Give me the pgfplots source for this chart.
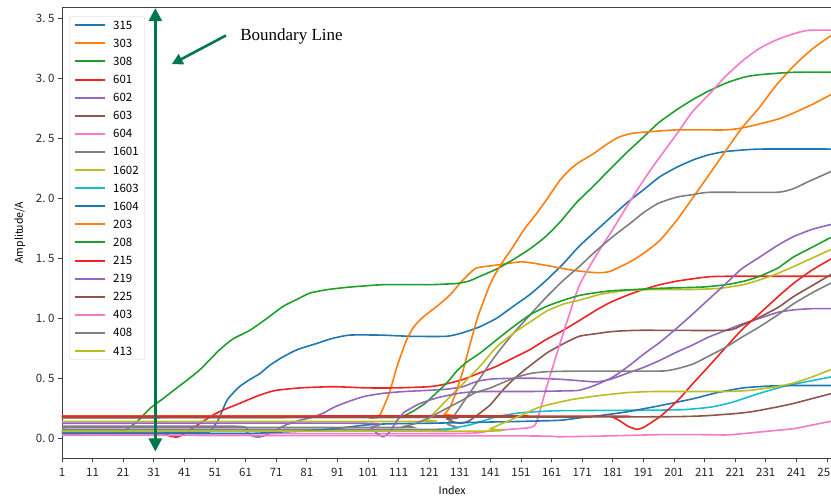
\documentclass[border=0pt]{standalone}
\usepackage{pgfplots}
\pgfplotsset{compat=1.18}
\usetikzlibrary{arrows.meta}
\usepackage{fontspec}
\setmainfont{Noto Sans CJK SC}
\newfontfamily\timesfont{Liberation Serif}
\definecolor{sBlue}{HTML}{1F77B4}
\definecolor{sOrange}{HTML}{FF7F0E}
\definecolor{sGreen}{HTML}{1FA02C}
\definecolor{sRed}{HTML}{F02323}
\definecolor{sPurple}{HTML}{9467BD}
\definecolor{sBrown}{HTML}{8C564B}
\definecolor{sPink}{HTML}{F57AC8}
\definecolor{sGray}{HTML}{7F7F7F}
\definecolor{sOlive}{HTML}{BCBD22}
\definecolor{sCyan}{HTML}{17BECF}
\definecolor{arrowgreen}{RGB}{0,120,75}
\pgfplotsset{ser/.style={line width=1.6pt, smooth, tension=0.35, mark=none}}
\begin{document}
\begin{tikzpicture}
\begin{axis}[
  scale only axis, width=780.3pt, height=450.8pt,
  xmin=1, xmax=256, ymin=-0.1667, ymax=3.59,
  xtick={1,11,21,31,41,51,61,71,81,91,101,111,121,131,141,151,161,171,181,191,201,211,221,231,241,251},
  xticklabels={1,11,21,31,41,51,61,71,81,91,101,111,121,131,141,151,161,171,181,191,201,211,221,231,241,251},
  ytick={0,0.5,1,1.5,2,2.5,3,3.5},
  yticklabels={0.\hspace{0.22em}0,0.\hspace{0.22em}5,1.\hspace{0.22em}0,1.\hspace{0.22em}5,2.\hspace{0.22em}0,2.\hspace{0.22em}5,3.\hspace{0.22em}0,3.\hspace{0.22em}5},
  xtick pos=bottom, ytick pos=left,
  tick align=outside, major tick length=4pt,
  tick style={black!75, line width=0.8pt},
  axis line style={black!75, line width=0.9pt},
  ticklabel style={font=\fontsize{11.5}{13}\selectfont, text=black!85},
  xticklabel style={yshift=-2pt},
  every axis x label/.style={at={(rel axis cs:0.5,0)}, yshift=-32pt, anchor=center},
  every axis y label/.style={at={(rel axis cs:0,0.5)}, xshift=-42pt, rotate=90, anchor=center},
  label style={font=\fontsize{10.5}{12}\selectfont},
  xlabel={Index}, ylabel={Amplitude/A},
  legend cell align=left,
  legend image code/.code={\draw[#1, line width=2pt] plot coordinates {(0pt,0pt) (15pt,0pt) (30pt,0pt)};},
  legend style={at={(0.009,0.98)}, anchor=north west, draw=black!18, rounded corners=2.5pt,
    fill=white, fill opacity=0.85, text opacity=1, row sep=7.1pt, inner xsep=5pt, inner ysep=3pt,
    font=\fontsize{11.5}{13}\selectfont,
    /tikz/every odd column/.append style={column sep=6pt},
    nodes={inner sep=1pt, text height=8.5pt, text depth=0.5pt}},
]
% 315
\addplot[ser, color=sBlue] coordinates {(1,0.05)(30,0.05)(46,0.05)(49,0.05)(52,0.15)(55,0.32)(59,0.43)(62.4,0.49)(65.7,0.54)(69,0.61)(73.3,0.68)(78,0.74)(84.2,0.79)(89,0.83)(95,0.86)(105,0.86)(115,0.85)(126.7,0.85)(132,0.88)(137.6,0.93)(143,1.0)(148.5,1.10)(154,1.20)(159.4,1.32)(165,1.46)(170,1.60)(176.8,1.76)(185.5,1.96)(191,2.07)(196.4,2.18)(202,2.26)(207.3,2.32)(212,2.36)(218,2.39)(229,2.41)(256,2.41)};
\addlegendentry{315}
% 303
\addplot[ser, color=sOrange] coordinates {(1,0.185)(100,0.185)(103,0.17)(105,0.2)(108,0.38)(110.5,0.6)(113.6,0.82)(116,0.93)(119,1.01)(124.5,1.12)(128,1.2)(131,1.29)(134,1.37)(136.5,1.42)(142,1.44)(150.7,1.47)(155,1.46)(159.4,1.44)(168,1.40)(175.7,1.38)(180,1.39)(186.6,1.47)(191,1.54)(196.4,1.65)(202,1.82)(207.3,2.01)(212,2.18)(218,2.40)(223,2.58)(229,2.76)(234,2.93)(240,3.10)(246,3.24)(252,3.35)(256,3.40)};
\addlegendentry{303}
% 308
\addplot[ser, color=sGreen] coordinates {(1,0.06)(20,0.06)(23,0.09)(26,0.15)(29.8,0.25)(34,0.33)(37,0.39)(40.6,0.46)(46,0.57)(52.6,0.74)(57,0.83)(62.4,0.90)(68,1.0)(73.3,1.10)(78,1.16)(82,1.21)(88,1.24)(95,1.26)(106,1.28)(121,1.28)(126,1.285)(130,1.29)(134,1.31)(137.6,1.35)(143,1.41)(148.5,1.49)(154,1.58)(159,1.68)(163.7,1.80)(169,1.96)(174.6,2.10)(180,2.24)(185.5,2.38)(191,2.51)(196,2.63)(202,2.74)(207,2.82)(212,2.89)(218,2.96)(224,3.01)(229,3.03)(240,3.05)(256,3.05)};
\addlegendentry{308}
% 601
\addplot[ser, color=sRed] coordinates {(1,0.04)(33,0.04)(36,0.02)(38.5,0.01)(40.5,0.03)(42.8,0.07)(47,0.14)(51.5,0.21)(55,0.25)(58,0.28)(64.6,0.35)(68,0.38)(71,0.40)(78.8,0.42)(89.7,0.43)(100.6,0.42)(110,0.42)(121,0.43)(126,0.45)(132,0.49)(137,0.54)(143,0.60)(148.5,0.67)(154,0.74)(159,0.82)(164.8,0.90)(170,0.98)(175.7,1.07)(180,1.13)(185.5,1.19)(191,1.24)(196.4,1.28)(202,1.31)(207.3,1.33)(212,1.345)(218,1.35)(256,1.35)};
\addlegendentry{601}
% 602
\addplot[ser, color=sPurple] coordinates {(1,0.10)(58,0.10)(61,0.06)(63,0.02)(65,0.01)(67,0.02)(71,0.07)(74,0.11)(78.8,0.15)(82,0.17)(86.4,0.21)(90,0.26)(95,0.31)(100,0.35)(106,0.375)(113,0.39)(121,0.40)(127,0.41)(132,0.43)(135,0.46)(137.6,0.48)(142,0.495)(148.5,0.50)(156,0.50)(164.8,0.49)(170,0.48)(175.7,0.47)(180,0.49)(185.5,0.54)(191,0.59)(196.4,0.65)(202,0.72)(207.3,0.78)(212,0.84)(218,0.90)(223,0.95)(229,1.00)(235,1.05)(240,1.07)(246,1.08)(256,1.08)};
\addlegendentry{602}
% 603
\addplot[ser, color=sBrown] coordinates {(1,0.175)(124,0.175)(127,0.16)(129,0.135)(131.5,0.125)(134,0.145)(137.6,0.21)(141,0.28)(145,0.40)(148.5,0.49)(152.7,0.58)(159.4,0.71)(165,0.79)(170,0.85)(175,0.87)(181,0.89)(190,0.90)(218,0.90)(223,0.94)(229,1.01)(235,1.09)(240,1.18)(246,1.27)(252,1.36)(256,1.42)};
\addlegendentry{603}
% 604
\addplot[ser, color=sPink] coordinates {(1,0.04)(128,0.04)(140,0.06)(150,0.08)(154,0.09)(156,0.13)(159.4,0.43)(164.8,0.875)(170,1.27)(175.7,1.53)(181,1.74)(185.5,1.93)(190,2.11)(194,2.26)(202,2.54)(207,2.72)(212.8,2.875)(218,3.02)(223.6,3.15)(229,3.25)(234.5,3.32)(240,3.37)(245,3.40)(256,3.40)};
\addlegendentry{604}
% 1601
\addplot[ser, color=sGray] coordinates {(1,0.075)(124,0.075)(127,0.12)(130,0.22)(134.3,0.38)(137.6,0.50)(141,0.63)(144.5,0.75)(148.5,0.875)(154,1.03)(159.4,1.18)(165,1.32)(170,1.43)(175,1.55)(181,1.68)(186.6,1.79)(191,1.88)(196,1.96)(202,2.01)(207,2.03)(212.8,2.05)(234.5,2.05)(240,2.08)(245,2.14)(252,2.22)(256,2.28)};
\addlegendentry{1601}
% 1602
\addplot[ser, color=sOlive] coordinates {(1,0.14)(118,0.14)(120,0.15)(123,0.22)(126,0.30)(129.5,0.39)(133,0.48)(137.6,0.60)(143,0.76)(148.5,0.875)(154,0.97)(159.4,1.06)(165,1.12)(170,1.15)(177,1.20)(185,1.23)(195,1.24)(207,1.24)(216,1.25)(223.6,1.28)(229,1.32)(234.5,1.37)(240,1.43)(246,1.50)(252,1.57)(256,1.62)};
\addlegendentry{1602}
% 1603
\addplot[ser, color=sCyan] coordinates {(1,0.06)(120,0.06)(125,0.07)(130,0.09)(134,0.11)(138,0.14)(143,0.18)(150,0.21)(155,0.22)(164,0.23)(196,0.235)(205,0.24)(213,0.26)(220,0.30)(229,0.375)(235,0.42)(240,0.45)(246,0.48)(252,0.51)(256,0.53)};
\addlegendentry{1603}
% 1604
\addplot[ser, color=sBlue] coordinates {(1,0.04)(60,0.04)(70,0.05)(80,0.06)(90,0.08)(100,0.11)(107,0.12)(120,0.125)(140,0.135)(150,0.14)(163.7,0.15)(170,0.17)(177,0.19)(185.5,0.22)(196,0.27)(207.3,0.33)(215,0.38)(223.6,0.42)(232,0.435)(240,0.44)(256,0.44)};
\addlegendentry{1604}
% 203
\addplot[ser, color=sOrange] coordinates {(1,0.185)(124,0.185)(126,0.2)(128,0.27)(130,0.40)(132,0.56)(134.3,0.78)(137,1.02)(141,1.29)(144.5,1.45)(148.5,1.60)(152,1.74)(156,1.87)(159.4,1.99)(163.7,2.15)(167,2.24)(170,2.30)(174.6,2.37)(179,2.45)(183,2.51)(187,2.54)(190.8,2.55)(201.8,2.57)(218,2.57)(224,2.59)(229,2.62)(235,2.66)(240,2.71)(246,2.78)(252,2.86)(256,2.92)};
\addlegendentry{203}
% 208
\addplot[ser, color=sGreen] coordinates {(1,0.175)(110,0.175)(113,0.19)(116,0.23)(119.6,0.29)(123,0.37)(126.7,0.46)(130,0.56)(133,0.63)(137.6,0.71)(143,0.82)(148.5,0.93)(154,1.03)(159.4,1.10)(164.8,1.15)(170,1.19)(174.6,1.21)(181,1.23)(196.4,1.25)(210,1.26)(218,1.28)(224,1.31)(229,1.35)(235,1.42)(240,1.51)(246,1.59)(252,1.67)(256,1.72)};
\addlegendentry{208}
% 215
\addplot[ser, color=sRed] coordinates {(1,0.185)(178,0.185)(181,0.175)(183,0.15)(186,0.10)(188.8,0.075)(191,0.09)(193.5,0.13)(196.4,0.18)(200,0.26)(203.5,0.35)(207.3,0.46)(212,0.59)(218,0.76)(223,0.90)(229,1.04)(235,1.18)(240,1.29)(246,1.40)(252,1.49)(256,1.55)};
\addlegendentry{215}
% 219
\addplot[ser, color=sPurple] coordinates {(1,0.125)(100,0.125)(102,0.09)(104,0.04)(106,0.013)(108,0.05)(110,0.13)(112.5,0.21)(115,0.25)(118,0.29)(124,0.34)(132,0.38)(140,0.39)(154,0.39)(165,0.395)(170,0.40)(175,0.44)(181,0.51)(186.6,0.61)(191,0.70)(196.4,0.80)(202,0.92)(207.3,1.04)(212,1.15)(218,1.29)(223,1.41)(229,1.51)(235,1.61)(240,1.68)(246,1.74)(252,1.78)(256,1.80)};
\addlegendentry{219}
% 225
\addplot[ser, color=sBrown] coordinates {(1,0.17)(100,0.175)(200,0.18)(218,0.20)(226,0.22)(234.5,0.26)(240,0.29)(246,0.33)(252,0.37)(256,0.40)};
\addlegendentry{225}
% 403
\addplot[ser, color=sPink] coordinates {(1,0.025)(150,0.02)(163.7,0.013)(180,0.02)(196,0.03)(210,0.03)(218,0.028)(224,0.04)(232,0.06)(240,0.08)(246,0.11)(252,0.14)(256,0.16)};
\addlegendentry{403}
% 408
\addplot[ser, color=sGray] coordinates {(1,0.09)(110,0.09)(113,0.10)(116,0.12)(121,0.17)(126,0.24)(132,0.32)(136,0.38)(141,0.42)(148.5,0.50)(154,0.54)(159.4,0.555)(170,0.56)(196.4,0.56)(202,0.58)(207.3,0.62)(212,0.68)(218,0.76)(223,0.84)(229,0.93)(235,1.03)(240,1.12)(246,1.21)(252,1.29)(256,1.34)};
\addlegendentry{408}
% 413
\addplot[ser, color=sOlive] coordinates {(1,0.06)(138,0.06)(141,0.08)(145,0.125)(151,0.19)(156,0.25)(160,0.28)(167,0.32)(174.6,0.35)(185.5,0.38)(195,0.39)(218,0.39)(226,0.40)(234.5,0.43)(240,0.46)(246,0.51)(252,0.57)(256,0.61)};
\addlegendentry{413}
% annotations
\draw[arrowgreen, line width=2.6pt, {Triangle[width=13pt,length=13pt]}-{Triangle[width=13pt,length=13pt]}] (axis cs:31.5,-0.11) -- (axis cs:31.5,3.585);
\draw[arrowgreen, line width=2.6pt, -{Triangle[width=11pt,length=11pt]}] (axis cs:54.6,3.357) -- (axis cs:36.85,3.117);
\node[anchor=west, inner sep=0pt, font=\timesfont\fontsize{17}{20}\selectfont] at (axis cs:59.2,3.35) {Boundary Line};
\end{axis}
\pgfresetboundingbox
\path[use as bounding box] ([shift={(-62pt,-39.7pt)}]current axis.south west) rectangle ([shift={(769pt,7.5pt)}]current axis.north west);
\end{tikzpicture}
\end{document}
